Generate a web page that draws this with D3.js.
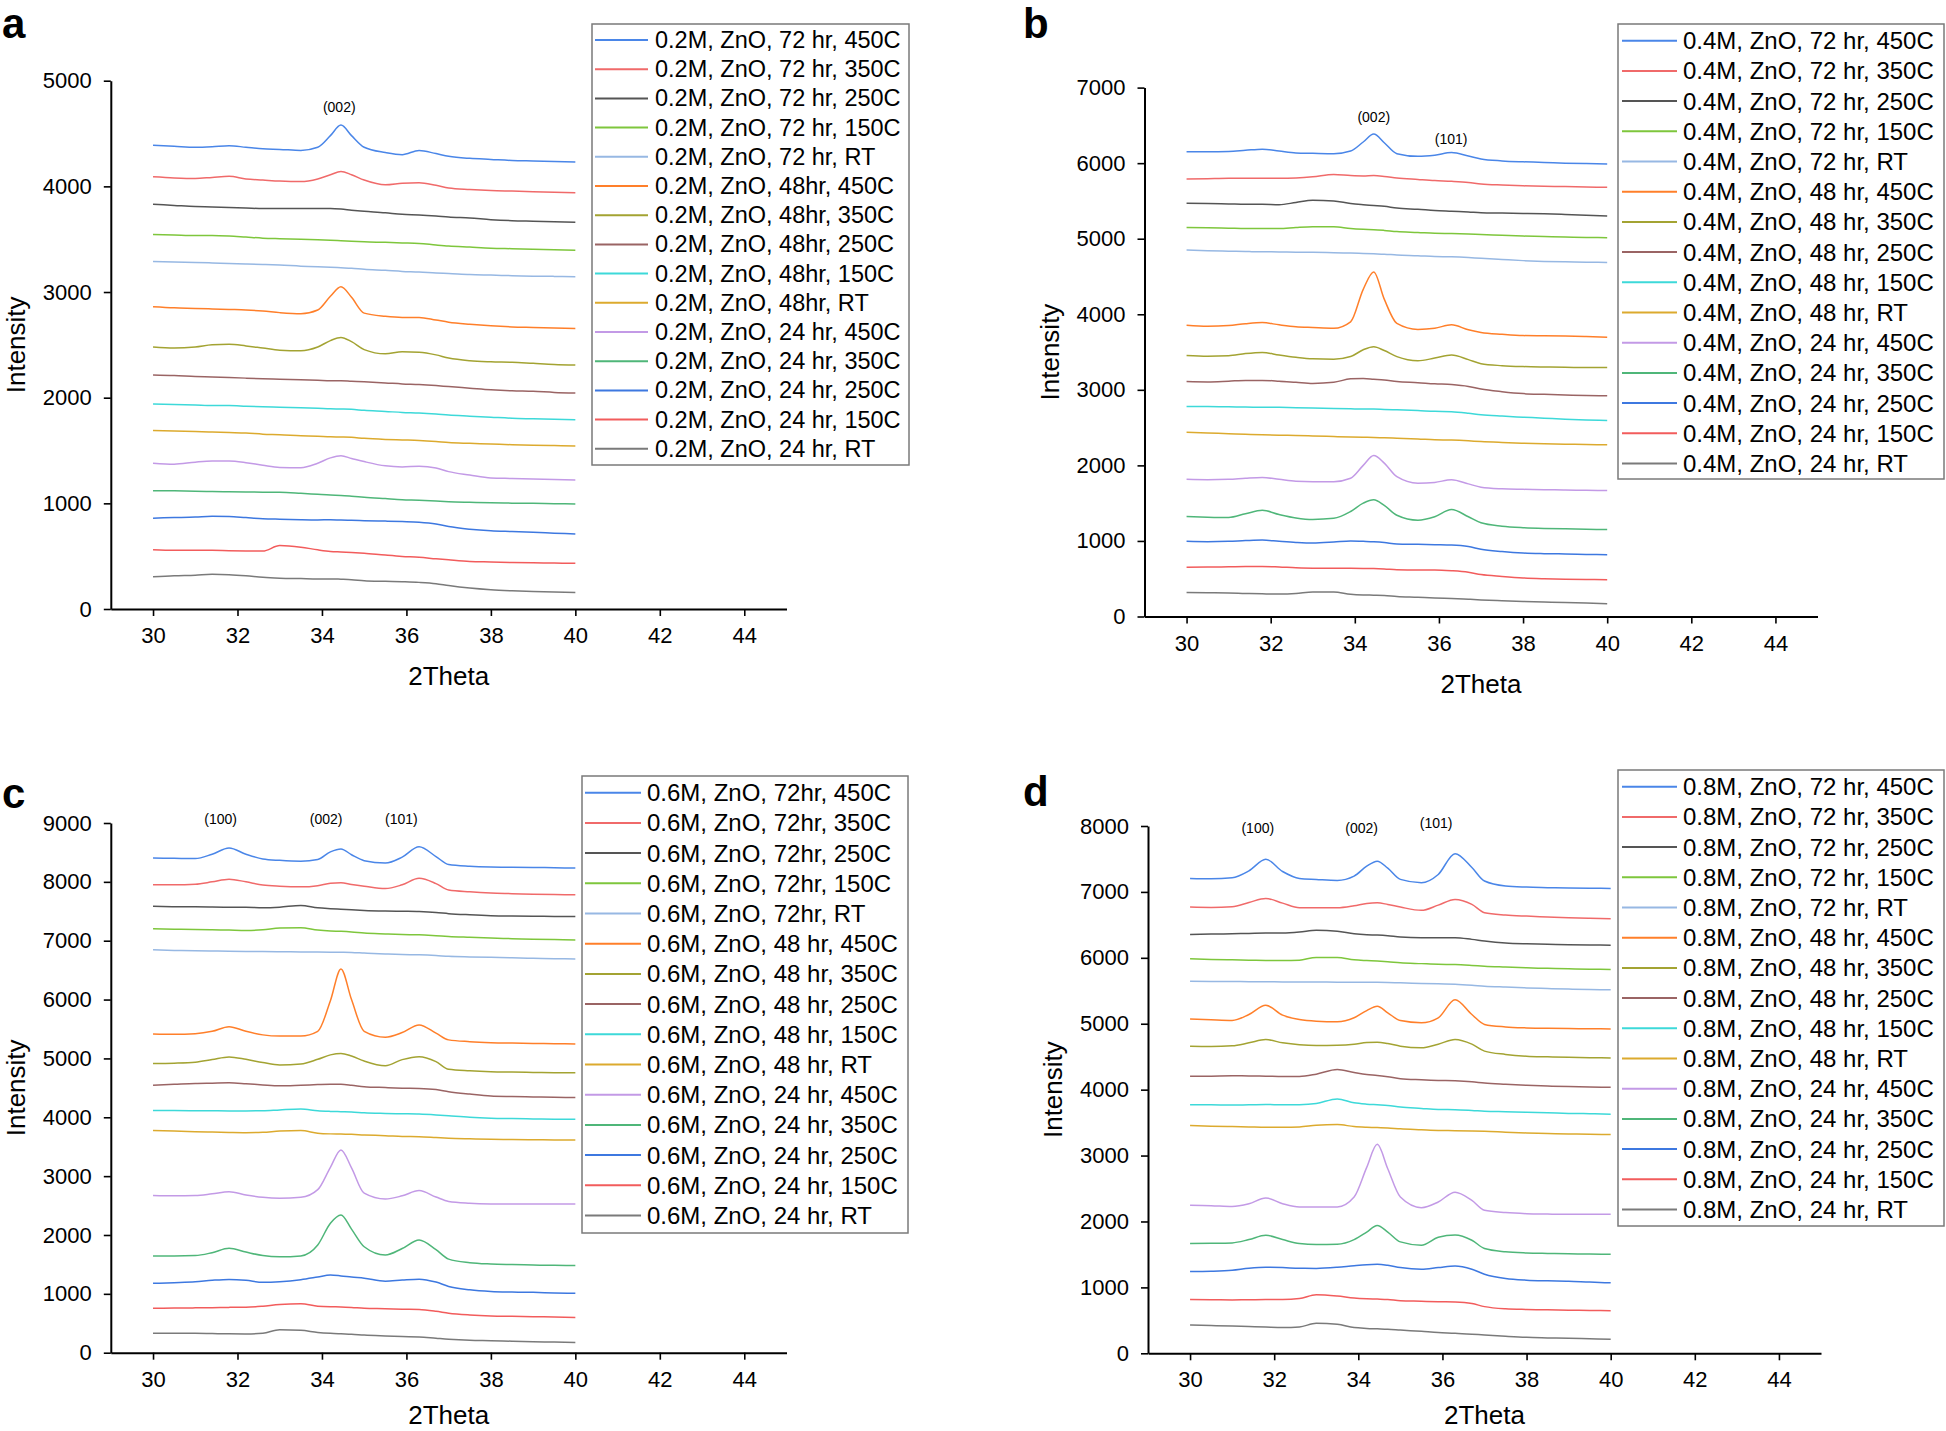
<!DOCTYPE html>
<html><head><meta charset="utf-8">
<script src="https://cdn.jsdelivr.net/npm/d3@7"></script>
<style>
body{margin:0;background:#fff}
svg{display:block}
text{font-family:"Liberation Sans",Arial,Helvetica,sans-serif;fill:#000}
</style>
</head><body>
<svg id="chart" width="1946" height="1431"></svg>
<script>
// ---------------- DATA ----------------
const twoTheta = [30,30.5,31,31.4,31.8,32.2,32.6,33,33.5,33.9,34.2,34.45,34.7,35,35.5,35.9,36.3,36.7,37,37.5,38,38.5,39,39.5,40];
const xMajorTicks = [30,32,34,36,38,40,42,44];
const xMinorTicks = [29,31,33,35,37,39,41,43,45];

const seriesColors = ["#4a86e8","#f06a6a","#555555","#7ec63c","#97b8e3","#ff7f2a","#a3a332","#9a6464",
                      "#3dd9d9","#dcaa2e","#c39ae6","#4fb679","#3d78e0","#f25c5c","#7a7a7a"];

const labelsA = ["0.2M, ZnO, 72 hr, 450C","0.2M, ZnO, 72 hr, 350C","0.2M, ZnO, 72 hr, 250C","0.2M, ZnO, 72 hr, 150C","0.2M, ZnO, 72 hr, RT",
 "0.2M, ZnO, 48hr, 450C","0.2M, ZnO, 48hr, 350C","0.2M, ZnO, 48hr, 250C","0.2M, ZnO, 48hr, 150C","0.2M, ZnO, 48hr, RT",
 "0.2M, ZnO, 24 hr, 450C","0.2M, ZnO, 24 hr, 350C","0.2M, ZnO, 24 hr, 250C","0.2M, ZnO, 24 hr, 150C","0.2M, ZnO, 24 hr, RT"];
const labelsB = ["0.4M, ZnO, 72 hr, 450C","0.4M, ZnO, 72 hr, 350C","0.4M, ZnO, 72 hr, 250C","0.4M, ZnO, 72 hr, 150C","0.4M, ZnO, 72 hr, RT",
 "0.4M, ZnO, 48 hr, 450C","0.4M, ZnO, 48 hr, 350C","0.4M, ZnO, 48 hr, 250C","0.4M, ZnO, 48 hr, 150C","0.4M, ZnO, 48 hr, RT",
 "0.4M, ZnO, 24 hr, 450C","0.4M, ZnO, 24 hr, 350C","0.4M, ZnO, 24 hr, 250C","0.4M, ZnO, 24 hr, 150C","0.4M, ZnO, 24 hr, RT"];
const labelsC = ["0.6M, ZnO, 72hr, 450C","0.6M, ZnO, 72hr, 350C","0.6M, ZnO, 72hr, 250C","0.6M, ZnO, 72hr, 150C","0.6M, ZnO, 72hr, RT",
 "0.6M, ZnO, 48 hr, 450C","0.6M, ZnO, 48 hr, 350C","0.6M, ZnO, 48 hr, 250C","0.6M, ZnO, 48 hr, 150C","0.6M, ZnO, 48 hr, RT",
 "0.6M, ZnO, 24 hr, 450C","0.6M, ZnO, 24 hr, 350C","0.6M, ZnO, 24 hr, 250C","0.6M, ZnO, 24 hr, 150C","0.6M, ZnO, 24 hr, RT"];
const labelsD = ["0.8M, ZnO, 72 hr, 450C","0.8M, ZnO, 72 hr, 350C","0.8M, ZnO, 72 hr, 250C","0.8M, ZnO, 72 hr, 150C","0.8M, ZnO, 72 hr, RT",
 "0.8M, ZnO, 48 hr, 450C","0.8M, ZnO, 48 hr, 350C","0.8M, ZnO, 48 hr, 250C","0.8M, ZnO, 48 hr, 150C","0.8M, ZnO, 48 hr, RT",
 "0.8M, ZnO, 24 hr, 450C","0.8M, ZnO, 24 hr, 350C","0.8M, ZnO, 24 hr, 250C","0.8M, ZnO, 24 hr, 150C","0.8M, ZnO, 24 hr, RT"];

const yTicksA = [0,1000,2000,3000,4000,5000];
const yTicksB = [0,1000,2000,3000,4000,5000,6000,7000];
const yTicksC = [0,1000,2000,3000,4000,5000,6000,7000,8000,9000];
const yTicksD = [0,1000,2000,3000,4000,5000,6000,7000,8000];

const peaksA = [{label:"(002)", x:34.41, y:4751}];
const peaksB = [{label:"(002)", x:34.45, y:6606},{label:"(101)", x:36.29, y:6315}];
const peaksC = [{label:"(100)", x:31.6, y:9064},{label:"(002)", x:34.1, y:9064},{label:"(101)", x:35.88, y:9064}];
const peaksD = [{label:"(100)", x:31.61, y:7967},{label:"(002)", x:34.08, y:7967},{label:"(101)", x:35.85, y:8042}];

const valuesA = [
 [4390,4380,4370,4375,4385,4370,4355,4350,4340,4370,4480,4580,4480,4370,4320,4300,4340,4310,4285,4265,4255,4245,4240,4235,4230],
 [4090,4080,4075,4085,4095,4070,4060,4050,4045,4070,4110,4140,4110,4060,4015,4030,4035,4010,3985,3970,3960,3955,3950,3945,3940],
 [3830,3820,3810,3805,3800,3795,3790,3790,3790,3790,3790,3785,3775,3765,3750,3735,3730,3720,3710,3700,3685,3675,3670,3665,3660],
 [3545,3540,3535,3535,3530,3520,3510,3505,3500,3495,3490,3485,3480,3475,3470,3465,3460,3445,3435,3425,3415,3410,3405,3400,3395],
 [3290,3285,3280,3275,3270,3265,3260,3255,3245,3240,3235,3230,3225,3215,3205,3195,3190,3180,3175,3165,3160,3155,3150,3148,3145],
 [2860,2850,2845,2840,2835,2830,2820,2805,2795,2830,2960,3050,2950,2800,2770,2760,2760,2735,2715,2695,2680,2670,2665,2660,2655],
 [2480,2470,2480,2500,2505,2490,2470,2450,2445,2480,2540,2570,2530,2455,2415,2435,2430,2405,2375,2350,2340,2335,2325,2315,2310],
 [2215,2210,2200,2195,2190,2185,2180,2175,2170,2165,2160,2160,2155,2150,2140,2130,2125,2115,2105,2090,2075,2065,2060,2050,2045],
 [1940,1935,1930,1925,1925,1920,1915,1910,1905,1900,1895,1893,1890,1880,1870,1860,1855,1845,1835,1825,1815,1805,1800,1795,1790],
 [1690,1685,1680,1675,1670,1665,1655,1650,1640,1635,1630,1628,1625,1615,1605,1600,1595,1585,1575,1568,1562,1555,1550,1547,1543],
 [1380,1370,1390,1400,1400,1385,1360,1340,1338,1380,1430,1450,1425,1395,1355,1345,1350,1335,1300,1268,1240,1235,1230,1225,1220],
 [1120,1118,1115,1112,1110,1108,1106,1105,1095,1085,1078,1075,1068,1058,1045,1035,1030,1022,1016,1010,1005,1002,1000,997,994],
 [860,865,870,878,875,865,855,850,845,843,845,842,840,836,832,828,822,805,780,755,740,733,726,718,710],
 [560,555,555,555,552,550,548,600,585,560,545,540,535,527,510,498,490,475,465,450,445,440,437,435,432],
 [305,315,320,328,325,315,300,292,288,285,285,282,278,268,262,258,252,240,222,198,182,172,165,160,155]
];
const valuesB = [
 [6150,6150,6155,6170,6185,6160,6135,6130,6125,6160,6280,6385,6270,6125,6090,6105,6140,6095,6055,6030,6018,6010,6000,5995,5990],
 [5790,5795,5800,5800,5800,5800,5805,5820,5850,5835,5830,5835,5825,5805,5785,5770,5760,5745,5725,5710,5700,5695,5690,5685,5680],
 [5470,5465,5460,5455,5455,5450,5480,5510,5500,5465,5450,5440,5430,5405,5390,5375,5365,5355,5345,5340,5335,5330,5322,5312,5300],
 [5150,5145,5140,5135,5135,5135,5150,5160,5160,5135,5125,5120,5110,5095,5083,5072,5068,5062,5057,5045,5035,5028,5022,5017,5013],
 [4850,4840,4835,4830,4828,4825,4822,4820,4815,4810,4805,4800,4795,4785,4775,4765,4760,4750,4740,4725,4710,4700,4695,4690,4686],
 [3855,3840,3850,3875,3890,3860,3835,3825,3815,3900,4330,4560,4200,3880,3800,3815,3860,3795,3760,3735,3718,3715,3712,3705,3695],
 [3455,3445,3450,3480,3495,3460,3430,3410,3405,3440,3530,3570,3520,3440,3385,3420,3460,3400,3345,3320,3308,3302,3298,3296,3295],
 [3110,3105,3115,3125,3125,3115,3100,3085,3100,3145,3150,3140,3130,3110,3095,3080,3070,3045,3010,2975,2950,2940,2932,2925,2920],
 [2780,2778,2775,2772,2770,2768,2762,2758,2752,2748,2745,2745,2740,2735,2725,2715,2710,2690,2670,2652,2638,2625,2612,2602,2593],
 [2440,2430,2420,2412,2405,2400,2395,2390,2382,2375,2372,2370,2365,2360,2350,2340,2335,2325,2315,2303,2293,2285,2280,2276,2272],
 [1815,1810,1815,1830,1840,1815,1790,1785,1785,1830,2000,2130,2030,1850,1765,1775,1810,1755,1712,1690,1683,1678,1675,1670,1666],
 [1325,1315,1310,1360,1405,1350,1305,1285,1300,1390,1500,1545,1470,1340,1275,1320,1415,1320,1240,1195,1175,1165,1160,1155,1150],
 [995,990,995,1005,1012,995,980,972,985,1000,995,990,980,960,955,950,945,925,890,860,840,832,828,822,816],
 [652,655,658,662,662,655,645,640,640,638,636,635,630,618,615,615,605,585,555,530,510,500,494,490,485],
 [318,315,312,305,300,298,305,325,325,295,285,282,278,265,255,245,238,228,220,210,200,192,185,178,168]
];
const valuesC = [
 [8405,8400,8395,8470,8575,8470,8390,8365,8350,8380,8510,8560,8460,8360,8320,8420,8595,8430,8295,8265,8252,8248,8245,8240,8235],
 [7950,7950,7960,8000,8045,8000,7945,7925,7915,7935,7975,7985,7955,7925,7885,7950,8060,7970,7860,7830,7810,7800,7790,7785,7780],
 [7585,7578,7575,7572,7570,7568,7560,7570,7600,7560,7545,7535,7525,7515,7505,7500,7495,7480,7460,7440,7425,7418,7415,7413,7411],
 [7205,7195,7190,7185,7180,7175,7185,7215,7220,7180,7165,7160,7150,7130,7115,7105,7100,7085,7072,7058,7045,7035,7025,7020,7014],
 [6845,6835,6830,6825,6820,6818,6815,6812,6810,6808,6805,6803,6800,6790,6775,6765,6760,6748,6735,6725,6718,6710,6702,6695,6688],
 [5415,5410,5420,5460,5540,5460,5400,5380,5380,5460,5980,6520,6000,5460,5360,5440,5570,5430,5315,5285,5268,5260,5255,5250,5245],
 [4915,4920,4935,4980,5025,4985,4930,4890,4905,4985,5060,5085,5040,4955,4875,4980,5030,4945,4815,4790,4775,4768,4762,4758,4755],
 [4545,4560,4575,4580,4585,4570,4550,4535,4545,4555,4560,4560,4545,4520,4505,4495,4490,4470,4435,4395,4362,4352,4345,4340,4336],
 [4115,4115,4112,4110,4108,4108,4110,4125,4140,4110,4100,4095,4090,4075,4065,4060,4055,4040,4025,4000,3985,3978,3972,3968,3965],
 [3775,3765,3755,3748,3742,3738,3745,3765,3775,3730,3718,3715,3710,3700,3688,3675,3668,3655,3645,3635,3627,3622,3618,3616,3615],
 [2670,2665,2670,2700,2735,2680,2640,2625,2640,2770,3150,3445,3140,2710,2610,2665,2755,2645,2570,2540,2528,2525,2525,2525,2525],
 [1645,1645,1650,1700,1775,1710,1650,1630,1645,1830,2200,2340,2100,1800,1660,1770,1915,1750,1590,1530,1508,1498,1490,1484,1480],
 [1178,1190,1205,1230,1245,1230,1195,1205,1240,1285,1320,1305,1285,1265,1215,1235,1250,1200,1125,1068,1040,1030,1025,1015,1008],
 [755,758,762,765,770,772,790,820,830,790,780,778,770,755,748,740,735,705,672,642,625,618,612,606,600],
 [330,330,330,325,320,318,330,390,380,345,330,322,315,300,285,275,268,245,228,210,204,195,188,180,172]
];
const valuesD = [
 [7205,7200,7215,7320,7495,7310,7205,7190,7175,7240,7390,7465,7360,7190,7140,7265,7580,7370,7165,7090,7073,7065,7058,7055,7053],
 [6770,6765,6775,6840,6900,6830,6760,6760,6760,6790,6825,6835,6810,6770,6720,6800,6885,6810,6685,6650,6633,6620,6608,6600,6592],
 [6355,6360,6365,6370,6375,6375,6390,6420,6405,6365,6350,6345,6335,6315,6305,6305,6305,6280,6255,6225,6212,6205,6198,6195,6192],
 [5985,5975,5970,5965,5960,5958,5965,6005,6005,5970,5958,5950,5940,5925,5912,5902,5898,5885,5873,5860,5848,5840,5833,5828,5823],
 [5645,5642,5640,5638,5636,5635,5633,5632,5631,5630,5630,5628,5625,5620,5612,5605,5600,5585,5570,5556,5544,5534,5526,5520,5514],
 [5073,5060,5050,5140,5280,5130,5063,5038,5030,5090,5200,5265,5165,5048,5015,5090,5365,5140,4990,4952,4937,4930,4927,4924,4922],
 [4658,4655,4665,4710,4760,4710,4680,4668,4673,4690,4715,4720,4700,4660,4635,4690,4760,4690,4585,4535,4508,4498,4490,4485,4481],
 [4203,4205,4210,4208,4205,4200,4200,4235,4305,4260,4230,4215,4195,4167,4150,4140,4135,4120,4101,4082,4066,4055,4046,4040,4035],
 [3772,3770,3768,3770,3775,3770,3772,3790,3860,3800,3780,3770,3760,3735,3715,3700,3695,3685,3672,3665,3658,3650,3640,3635,3628],
 [3455,3445,3440,3435,3430,3430,3435,3460,3470,3440,3430,3425,3420,3405,3392,3382,3378,3372,3368,3355,3343,3335,3328,3322,3318],
 [2245,2240,2228,2270,2355,2270,2220,2218,2220,2370,2820,3170,2800,2370,2210,2295,2445,2320,2170,2135,2118,2112,2108,2108,2108],
 [1665,1668,1675,1725,1790,1725,1665,1650,1655,1725,1840,1940,1840,1690,1640,1760,1795,1715,1590,1540,1522,1515,1510,1505,1502],
 [1240,1245,1260,1290,1305,1300,1290,1288,1305,1330,1345,1350,1335,1300,1275,1300,1325,1275,1200,1135,1110,1100,1094,1080,1069],
 [815,812,810,812,815,815,830,890,870,840,828,822,815,798,790,782,778,755,708,675,665,660,655,650,645],
 [428,420,413,405,398,392,400,455,440,390,378,372,366,353,333,315,305,290,277,258,242,234,227,220,212]
];

// ---------------- LAYOUT ----------------
const panels = [
 {letter:"a", values:valuesA, labels:labelsA, peaks:peaksA, yTicks:yTicksA, yMax:5000,
  px:[110.8,786.5], py:[609,80.7], letterPos:[2,38], titleGap:76,
  legend:{x:592,y:24,w:317,h:441,row0:40,dy:29.2,l0:595,l1:648,tx:655,fs:23.5}},
 {letter:"b", values:valuesB, labels:labelsB, peaks:peaksB, yTicks:yTicksB, yMax:7000,
  px:[1144.5,1817.5], py:[616.5,87.6], letterPos:[1023,38], titleGap:76,
  legend:{x:1618,y:24,w:326,h:455,row0:40.7,dy:30.2,l0:1622,l1:1677,tx:1683,fs:24}},
 {letter:"c", values:valuesC, labels:labelsC, peaks:peaksC, yTicks:yTicksC, yMax:9000,
  px:[110.8,786.5], py:[1352.7,823], letterPos:[2,808], titleGap:71,
  legend:{x:582,y:776,w:326,h:457,row0:792.7,dy:30.2,l0:585,l1:641,tx:647,fs:24}},
 {letter:"d", values:valuesD, labels:labelsD, peaks:peaksD, yTicks:yTicksD, yMax:8000,
  px:[1148,1821], py:[1353.3,826], letterPos:[1023,806], titleGap:71,
  legend:{x:1618,y:770,w:326,h:456,row0:786.7,dy:30.2,l0:1622,l1:1677,tx:1683,fs:24}}
];

const svg = d3.select("#chart");
svg.append("rect").attr("width",1946).attr("height",1431).attr("fill","#fff");

panels.forEach(P => {
  const g = svg.append("g");
  const x = d3.scaleLinear().domain([29,45]).range(P.px);
  const y = d3.scaleLinear().domain([0,P.yMax]).range(P.py);

  // series lines
  const line = d3.line().x((d,i)=>x(twoTheta[i])).y(d=>y(d)).curve(d3.curveMonotoneX);
  P.values.forEach((v,i)=>{
    g.append("path").attr("d",line(v)).attr("fill","none")
     .attr("stroke",seriesColors[i]).attr("stroke-width",1.5).attr("stroke-linejoin","round");
  });

  // x axis
  const gx = g.append("g").attr("transform",`translate(0,${P.py[0]})`);
  gx.call(d3.axisBottom(x).tickValues(xMinorTicks).tickSize(4).tickSizeOuter(0).tickFormat(""));
  gx.call(d3.axisBottom(x).tickValues(xMajorTicks).tickSize(7).tickSizeOuter(0).tickPadding(11.4).tickFormat(d3.format("d")));
  // y axis
  const gy = g.append("g").attr("transform",`translate(${P.px[0]},0)`);
  const yMinor = P.yTicks.slice(0,-1).map(t=>t+500);
  gy.call(d3.axisLeft(y).tickValues(yMinor).tickSize(4).tickSizeOuter(0).tickFormat(""));
  gy.call(d3.axisLeft(y).tickValues(P.yTicks).tickSize(7).tickSizeOuter(0).tickPadding(12).tickFormat(d3.format("d")));

  [gx,gy].forEach(a=>{
    a.selectAll(".domain").attr("stroke","#000").attr("stroke-width",2);
    a.selectAll(".tick line").attr("stroke","#000").attr("stroke-width",1.6);
    a.selectAll("text").attr("font-size",22).attr("font-family","Liberation Sans, Arial, sans-serif").attr("fill","#000");
  });

  // axis titles
  g.append("text").attr("x",(P.px[0]+P.px[1])/2).attr("y",P.py[0]+P.titleGap)
    .attr("text-anchor","middle").attr("font-size",26).text("2Theta");
  g.append("text").attr("transform",`translate(${P.px[0]-86},${(P.py[0]+P.py[1])/2}) rotate(-90)`)
    .attr("text-anchor","middle").attr("font-size",26).text("Intensity");

  // panel letter
  g.append("text").attr("x",P.letterPos[0]).attr("y",P.letterPos[1])
    .attr("font-size",42).attr("font-weight","bold").text(P.letter);

  // peak labels
  P.peaks.forEach(p=>{
    g.append("text").attr("x",x(p.x)).attr("y",y(p.y)).attr("text-anchor","middle")
     .attr("dominant-baseline","central").attr("font-size",14).text(p.label);
  });

  // legend
  const L = P.legend;
  g.append("rect").attr("x",L.x).attr("y",L.y).attr("width",L.w).attr("height",L.h)
    .attr("fill","#fff").attr("stroke","#7a7a7a").attr("stroke-width",1.5);
  P.labels.forEach((lab,i)=>{
    const cy = L.row0 + i*L.dy;
    g.append("line").attr("x1",L.l0).attr("x2",L.l1).attr("y1",cy).attr("y2",cy)
      .attr("stroke",seriesColors[i]).attr("stroke-width",2);
    g.append("text").attr("x",L.tx).attr("y",cy).attr("dominant-baseline","central")
      .attr("font-size",L.fs).text(lab);
  });
});
</script>
</body></html>
